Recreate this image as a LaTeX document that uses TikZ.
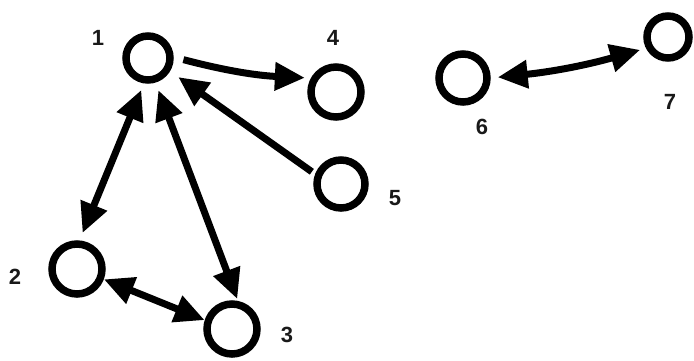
\documentclass[tikz,border=0pt]{standalone}
\usepackage{fontspec}
\setmainfont{Liberation Sans}
\usetikzlibrary{arrows.meta}
\begin{document}
\begin{tikzpicture}[x=1pt,y=-1pt,
  vert/.style={circle,draw=black,line width=7.5pt,inner sep=0pt},
  lbl/.style={font=\fontsize{22}{26}\selectfont\bfseries,text=black!90},
  conn/.style={line width=7pt,draw=black,
    arrows={-Triangle[length=30pt,width=27pt]}},
  bidir/.style={line width=7pt,draw=black,
    arrows={Triangle[length=30pt,width=27pt]-Triangle[length=30pt,width=27pt]}}]
\useasboundingbox (0,0) rectangle (694,360);
\node[vert,minimum size=44pt] (n1) at (148,58) {};
\node[vert,minimum size=50pt] (n4) at (336,92) {};
\node[vert,minimum size=48pt] (n5) at (341,184) {};
\node[vert,minimum size=50pt] (n2) at (77,269) {};
\node[vert,minimum size=50pt] (n3) at (232,329) {};
\node[vert,minimum size=48pt] (n6) at (463,78) {};
\node[vert,minimum size=42pt] (n7) at (668,37) {};
\node[lbl] (l1) at (98,38) {1};
\node[lbl] (l4) at (333,38) {4};
\node[lbl] (l5) at (395,198) {5};
\node[lbl] (l2) at (15,277) {2};
\node[lbl] (l3) at (287,335) {3};
\node[lbl] (l6) at (482,127) {6};
\node[lbl] (l7) at (670,102) {7};
\draw[conn,shorten <=10pt,shorten >=6pt] (n1.2) to[bend right=6] (n4.151);
\draw[conn,shorten <=4pt,shorten >=10pt] (n5.159) -- (n1.-31);
\draw[bidir,shorten <=7pt,shorten >=8pt] (n1.-99) -- (n2.85);
\draw[bidir,shorten <=8pt,shorten >=2pt] (n1.-73) -- (n3.78);
\draw[bidir,shorten <=0pt,shorten >=0pt] (n2.-21) -- (n3.162);
\draw[bidir,shorten <=7pt,shorten >=6pt] (n6.0) to[bend right=5] (n7.207);
\end{tikzpicture}
\end{document}
